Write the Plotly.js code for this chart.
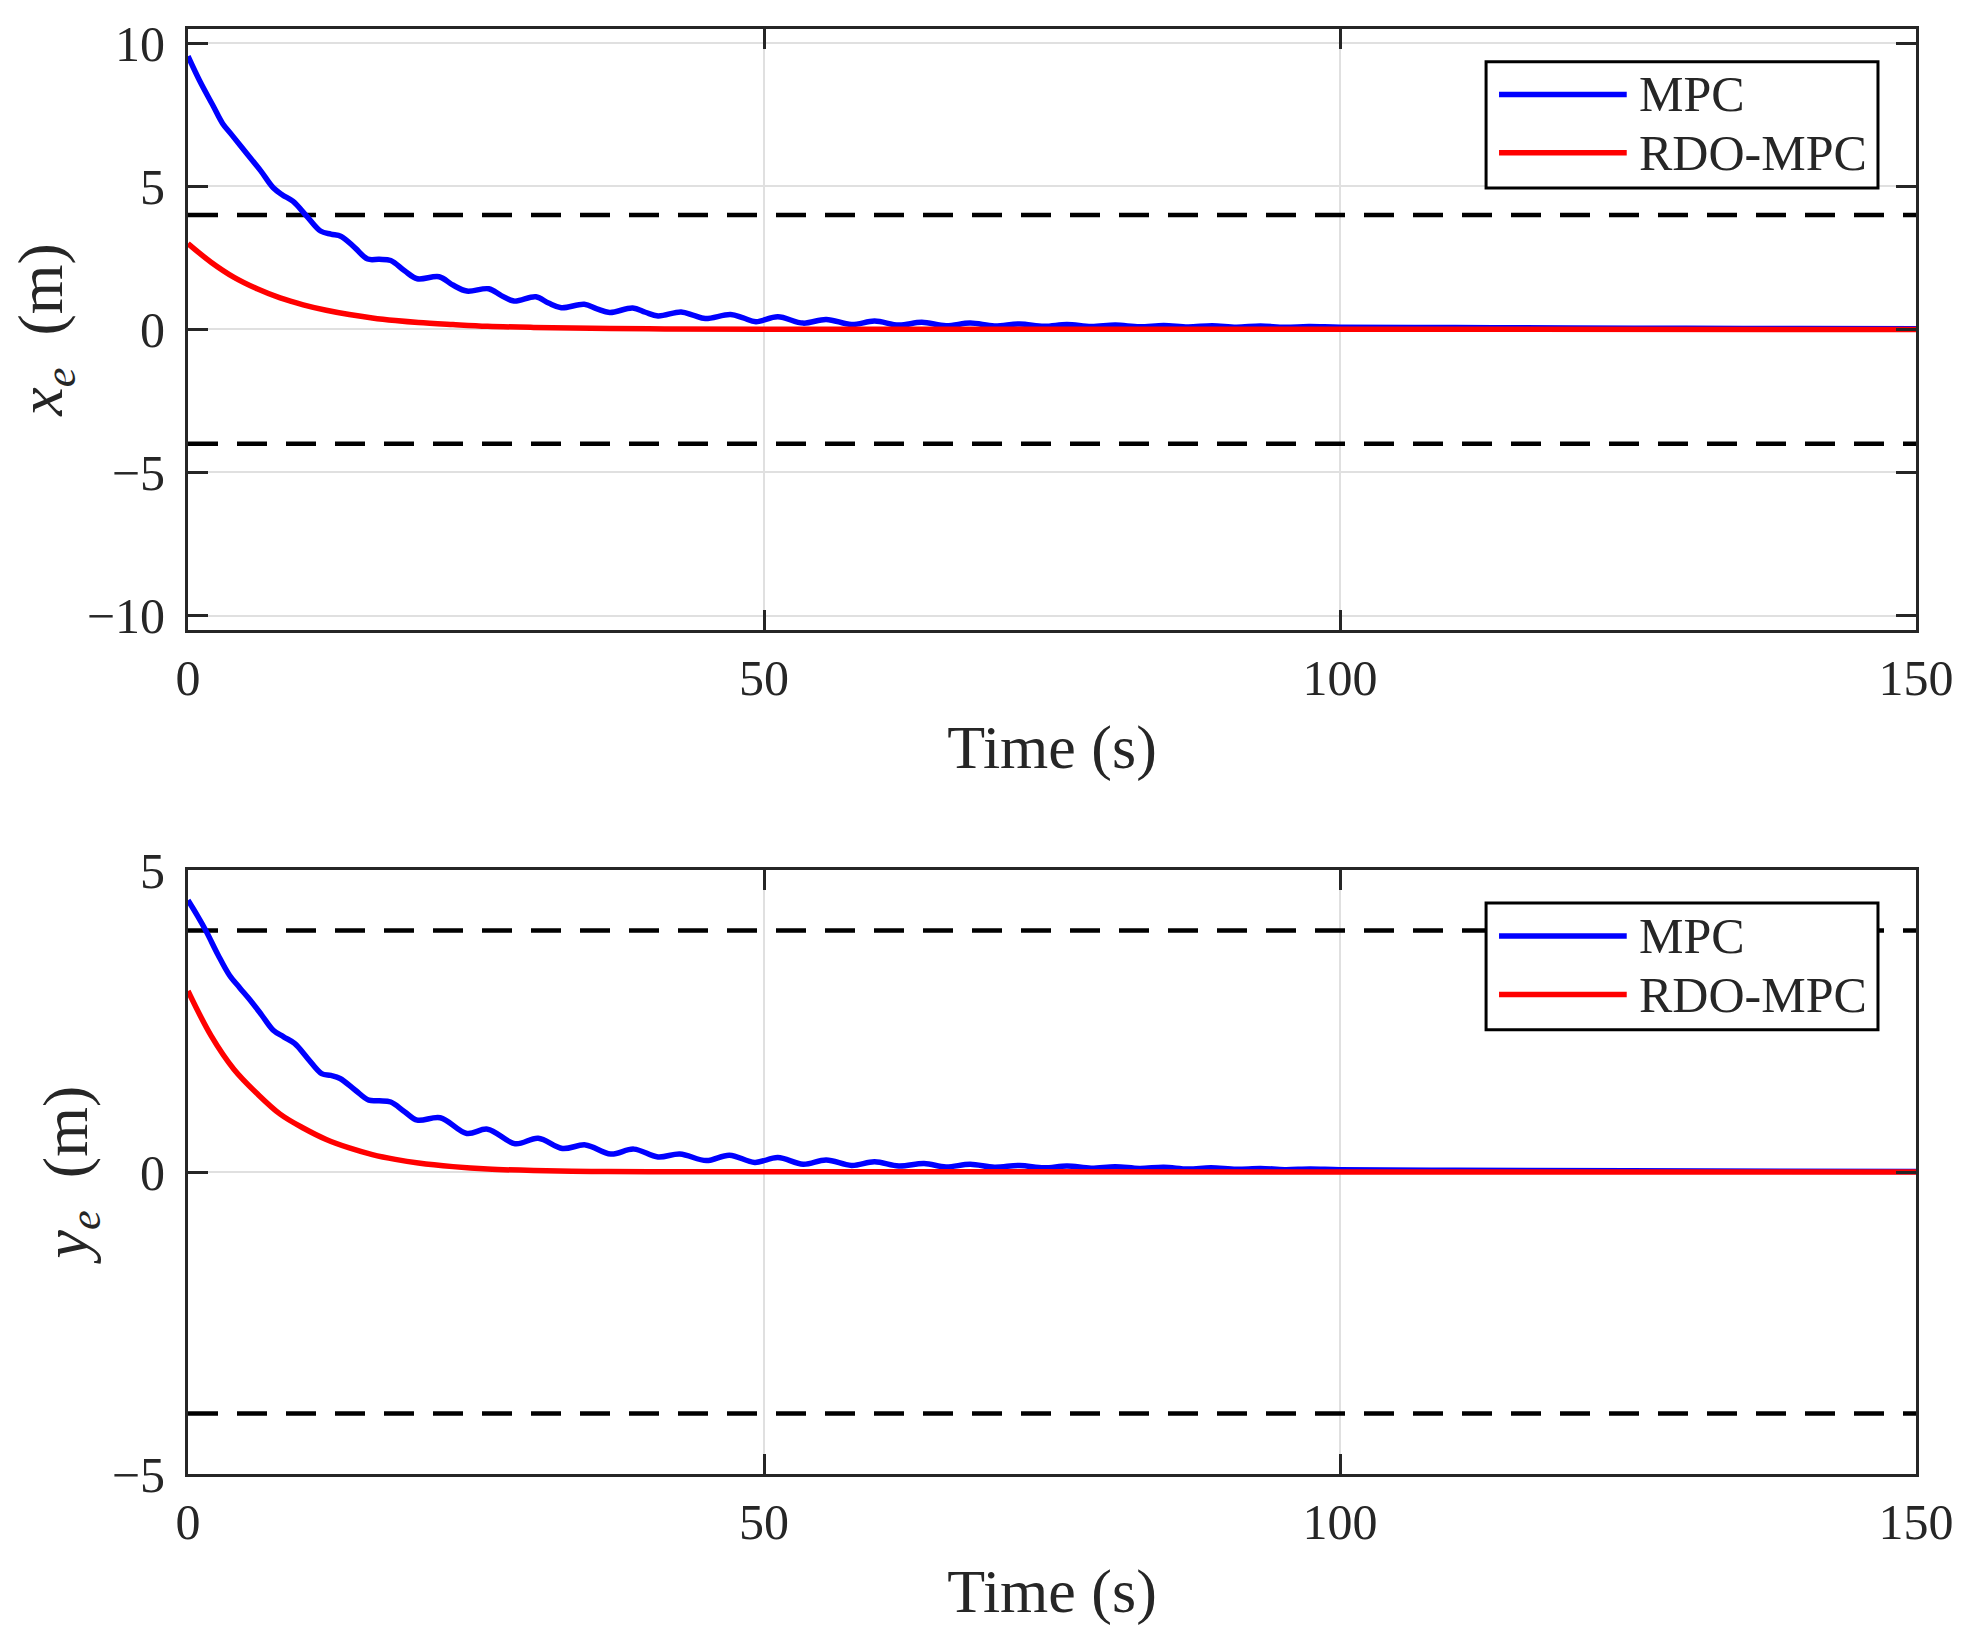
<!DOCTYPE html>
<html>
<head>
<meta charset="utf-8">
<script src="https://cdn.plot.ly/plotly-3.0.1.min.js"></script>
<style>
  html, body { margin: 0; padding: 0; background: #fff; }
  #myDiv { width: 1976px; height: 1647px; }
</style>
</head>
<body>
<div id="myDiv"></div>
<script>
// x_e panel
var xeMpcT = [0, 1, 2.2, 3, 3.8, 5.1, 6.3, 7.4, 8.2, 9.1, 10.3, 11.5, 12.4, 13.3, 14.5, 15.6, 16.6, 17.6,
  18.8, 19.9, 21.8, 23.0, 24.2, 26.1, 27.2, 28.3, 30.2, 31.3, 32.4, 34.4, 35.5, 36.6, 38.6, 39.7, 40.8,
  42.8, 43.9, 44.9, 47.1, 48.2, 49.3, 51.2, 53.4, 55.4, 57.6, 59.6, 61.7, 63.7, 65.8, 67.9, 70.0, 72.2,
  74.3, 76.3, 78.4, 80.5, 82.6, 84.7, 86.8, 88.9, 91.0, 93.1, 95.2, 97.3, 100, 110, 120, 130, 140, 150];
var xeMpc = [9.55, 8.7, 7.8, 7.2, 6.8, 6.15, 5.55, 4.95, 4.7, 4.48, 3.96, 3.44, 3.33, 3.25, 2.85, 2.46, 2.45, 2.41,
  2.05, 1.77, 1.84, 1.55, 1.34, 1.42, 1.18, 0.99, 1.14, 0.92, 0.76, 0.88, 0.72, 0.59, 0.75, 0.6, 0.47,
  0.61, 0.49, 0.38, 0.52, 0.4, 0.27, 0.44, 0.22, 0.35, 0.17, 0.29, 0.15, 0.25, 0.13, 0.22, 0.12, 0.19,
  0.11, 0.17, 0.1, 0.15, 0.09, 0.14, 0.085, 0.13, 0.08, 0.12, 0.075, 0.1, 0.08, 0.065, 0.05, 0.04, 0.03, 0.02];

var xeRdoT = [0, 2, 4, 6, 8, 10, 12, 14, 16, 18, 20, 23, 26, 30, 35, 40, 50, 150];
var xeRdo = [3.0, 2.35, 1.82, 1.42, 1.10, 0.86, 0.67, 0.52, 0.40, 0.31, 0.24, 0.17, 0.11, 0.07, 0.04, 0.02, 0.01, 0];

// y_e panel
var yeMpcT = [0, 0.8, 1.6, 2.6, 3.6, 4.5, 5.3, 6.4, 7.4, 8.3, 9.25, 10.4, 11.6, 12.4, 13.2, 14.5, 15.7, 16.6,
  17.6, 18.8, 19.9, 21.9, 24.2, 26.0, 28.4, 30.4, 32.5, 34.5, 36.7, 38.7, 40.8, 42.7, 45.0, 47.0, 49.2,
  51.2, 53.4, 55.4, 57.6, 59.6, 61.7, 63.9, 65.8, 67.9, 70.0, 72.2, 74.3, 76.3, 78.4, 80.5, 82.6, 84.7,
  86.8, 88.8, 91.0, 93.1, 95.2, 97.4, 100, 110, 125, 150];
var yeMpc = [4.5, 4.25, 3.98, 3.6, 3.26, 3.05, 2.87, 2.6, 2.35, 2.24, 2.13, 1.88, 1.63, 1.6, 1.55, 1.36, 1.19, 1.18,
  1.16, 1.0, 0.86, 0.9, 0.64, 0.71, 0.47, 0.56, 0.39, 0.45, 0.3, 0.38, 0.25, 0.3, 0.19, 0.28, 0.16,
  0.24, 0.13, 0.2, 0.11, 0.17, 0.1, 0.14, 0.085, 0.13, 0.08, 0.11, 0.07, 0.1, 0.065, 0.09, 0.06, 0.08,
  0.05, 0.07, 0.045, 0.06, 0.04, 0.05, 0.04, 0.03, 0.02, 0.01];

var yeRdoT = [0, 2, 4, 6, 8, 10, 12, 14, 16, 18, 20, 23, 26, 30, 35, 40, 150];
var yeRdo = [3.0, 2.26, 1.7, 1.3, 0.96, 0.73, 0.54, 0.40, 0.29, 0.21, 0.15, 0.09, 0.05, 0.025, 0.01, 0.005, 0];

// constraint bounds
var boundT = [0, 150];
var boundUp = [4, 4];
var boundLow = [-4, -4];

var xTicks = [0, 50, 100, 150];
var xeTicks = [-10, -5, 0, 5, 10];
var yeTicks = [-5, 0, 5];
var seriesNames = ['MPC', 'RDO-MPC'];
var seriesColors = ['#0000ff', '#ff0000'];

var FONT = 'Liberation Serif, Times New Roman, serif';
var INK = '#262626';

function dashed(x, y, xa, ya) {
  return {x: x, y: y, xaxis: xa, yaxis: ya, mode: 'lines', showlegend: false, hoverinfo: 'skip',
    line: {color: '#000', width: 4.5, dash: '30px,19px'}};
}
function curve(x, y, xa, ya, i) {
  return {x: x, y: y, xaxis: xa, yaxis: ya, mode: 'lines', name: seriesNames[i], showlegend: false,
    line: {color: seriesColors[i], width: 5.5, shape: 'spline', smoothing: 1}};
}

var data = [
  dashed(boundT, boundUp, 'x', 'y'),
  dashed(boundT, boundLow, 'x', 'y'),
  curve(xeMpcT, xeMpc, 'x', 'y', 0),
  curve(xeRdoT, xeRdo, 'x', 'y', 1),
  dashed(boundT, boundUp, 'x2', 'y2'),
  dashed(boundT, boundLow, 'x2', 'y2'),
  curve(yeMpcT, yeMpc, 'x2', 'y2', 0),
  curve(yeRdoT, yeRdo, 'x2', 'y2', 1)
];

function xAxis(anchor) {
  return {
    anchor: anchor, domain: [0, 1], range: [0, 150], tickvals: xTicks,
    showline: true, linecolor: INK, linewidth: 3, mirror: 'ticks',
    ticks: 'inside', ticklen: 20, tickwidth: 3, tickcolor: INK,
    showgrid: true, gridcolor: '#e0e0e0', gridwidth: 2, zeroline: false,
    ticklabelstandoff: 2,
    tickfont: {family: FONT, size: 50, color: INK},
    title: {text: 'Time (s)', standoff: 20, font: {family: FONT, size: 62, color: INK}}
  };
}
function yAxis(anchor, dom, range, ticks, label) {
  return {
    anchor: anchor, domain: dom, range: range, tickvals: ticks,
    showline: true, linecolor: INK, linewidth: 3, mirror: 'ticks',
    ticks: 'inside', ticklen: 20, tickwidth: 3, tickcolor: INK,
    showgrid: true, gridcolor: '#e0e0e0', gridwidth: 2, zeroline: false,
    ticklabelstandoff: 10,
    tickfont: {family: FONT, size: 50, color: INK},
    title: {text: label, standoff: 4, font: {family: FONT, size: 64, color: INK}}
  };
}

// hand-drawn legend boxes (MATLAB style, long line samples)
var shapes = [];
var annotations = [];
function legendBox(xa, ya) {
  var xr = xa + ' domain', yr = ya + ' domain';
  shapes.push({type: 'rect', xref: xr, yref: yr, x0: 0.7512, x1: 0.978, y0: 0.7355, y1: 0.9455,
    line: {color: '#000', width: 3}, fillcolor: '#fff', layer: 'above'});
  var rows = [0.891, 0.794];
  for (var i = 0; i < seriesNames.length; i++) {
    shapes.push({type: 'line', xref: xr, yref: yr, x0: 0.7587, x1: 0.8326, y0: rows[i], y1: rows[i],
      line: {color: seriesColors[i], width: 5.5}, layer: 'above'});
    annotations.push({xref: xr, yref: yr, x: 0.8383, y: rows[i], xanchor: 'left', yanchor: 'middle',
      showarrow: false, text: seriesNames[i], font: {family: FONT, size: 50, color: INK}});
  }
}
legendBox('x', 'y');
legendBox('x2', 'y2');

var layout = {
  width: 1976, height: 1647,
  margin: {l: 188, r: 60, t: 29, b: 173},
  paper_bgcolor: '#fff', plot_bgcolor: '#fff',
  showlegend: false,
  xaxis: xAxis('y'),
  yaxis: yAxis('x', [0.5842, 1], [-10.5, 10.5], xeTicks, '<i>x</i><sub><i>e</i></sub>  (m)'),
  xaxis2: xAxis('y2'),
  yaxis2: yAxis('x2', [0, 0.4179], [-5, 5], yeTicks, '<i>y</i><sub><i>e</i></sub>  (m)'),
  shapes: shapes,
  annotations: annotations
};

Plotly.newPlot('myDiv', data, layout, {staticPlot: true});
</script>
</body>
</html>
